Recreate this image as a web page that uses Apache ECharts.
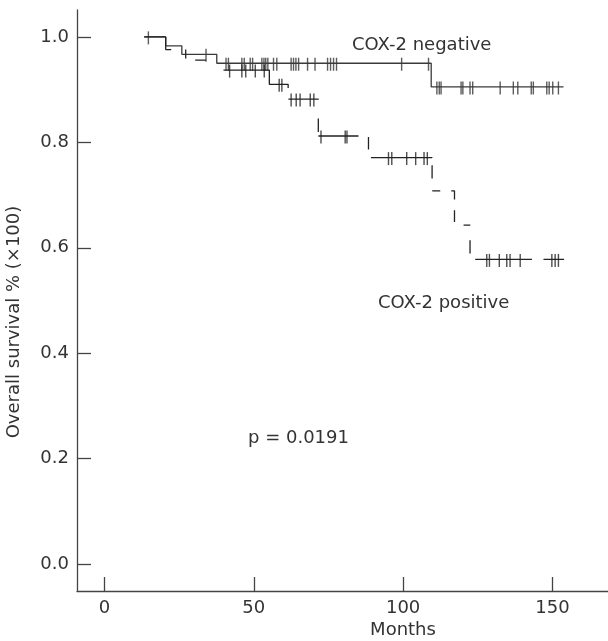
<!DOCTYPE html>
<html lang="en">
<head>
    <meta charset="UTF-8">
    <title>COX-2 survival</title>
    <script src="https://cdn.jsdelivr.net/npm/echarts@6/dist/echarts.min.js"></script>
    <style>
        html, body { margin: 0; padding: 0; background: #fff; }
    </style>
</head>
<body>
    <div id="main" style="width: 608px;height:641px;"></div>
    <script type="text/javascript">
        // Kaplan-Meier steps: time of each drop (months) and the survival after it
        const negTimes = [13.3, 20.5, 25.9, 37.6, 109.4, 153.7];
        const negSurv  = [1.0, 0.983, 0.967, 0.950, 0.905, 0.905];
        const posTimes = [13.3, 20.5, 27.2, 38.5, 55.2, 61.5, 71.6, 88.4, 109.7, 117.2, 122.4, 153.9];
        const posSurv  = [1.0, 0.976, 0.956, 0.937, 0.910, 0.882, 0.812, 0.771, 0.708, 0.643, 0.578, 0.578];

        // censored cases (months)
        const negCensor = [14.7, 34, 40.7, 41.5, 46, 46.8, 48.8, 49.6, 52.7, 53.4, 54, 54.7, 56.6, 57.7,
            62.5, 63.3, 64.1, 65, 68, 70.5, 74.7, 75.7, 76.7, 77.7, 99.5, 108.5,
            111.3, 112.1, 112.7, 119.4, 120, 122.4, 123.3, 132.5, 136.9, 138.4, 142.9, 143.6,
            148.1, 148.9, 150.1, 152];
        const posCensor = [41.9, 46, 47.3, 50.5, 53.5, 58.5, 59.4, 62.5, 64.2, 65.5, 68.9, 70.1,
            72.5, 80.6, 81.2, 95.1, 96.2, 101.2, 104.2, 107, 108.1,
            128, 128.9, 132.2, 134.7, 135.8, 139.2, 149.8, 150.9, 152];

        const xTicks = [0, 50, 100, 150];
        const yTicks = [0, 0.2, 0.4, 0.6, 0.8, 1.0];

        const FONT = 'DejaVu Sans';
        const INK = '#333';
        // irregular dashing of the old plot, dash/gap lengths in px along the curve
        const POS_DASH = [39.7, 14.5, 8.8, 11.2, 10.8, 27.5, 82.5, 11.4, 30.2, 19.2, 13.4, 4.1, 40.1, 11,
            12.6, 10.5, 61.3, 7.5, 13.3, 12.4, 8, 11, 12, 10.7, 11.7, 12.2, 6.6, 15, 13.3, 11, 56.7, 11.6, 40, 10];

        // survival level of a step curve at time t
        function levelAt(times, surv, t) {
            let s = surv[0];
            for (let i = 0; i < times.length; i++) {
                if (times[i] <= t) s = surv[i];
            }
            return s;
        }
        const pairs = (a, b) => a.map((t, i) => [t, b[i]]);
        const marks = (c, times, surv) => c.map(t => [t, levelAt(times, surv, t)]);

        let options = {
            animation: false,
            grid: { left: 77, right: 0, top: 10, bottom: 50, outerBoundsMode: 'none' },
            xAxis: {
                type: 'value', min: -9.2, max: 168.6,
                splitLine: { show: false },
                axisLine: { onZero: false, lineStyle: { color: '#444', width: 1.3 } },
                axisTick: { inside: true, length: 14, customValues: xTicks, lineStyle: { color: '#444', width: 1.3 } },
                axisLabel: { customValues: xTicks, fontFamily: FONT, fontSize: 18, color: INK, margin: 8 }
            },
            yAxis: {
                type: 'value', min: -0.051, max: 1.051,
                splitLine: { show: false },
                axisLine: { show: true, onZero: false, lineStyle: { color: '#444', width: 1.3 } },
                axisTick: { show: true, inside: true, length: 14, customValues: yTicks, lineStyle: { color: '#444', width: 1.3 } },
                axisLabel: { customValues: yTicks, formatter: v => v.toFixed(1), fontFamily: FONT, fontSize: 18, color: INK, margin: 8 }
            },
            series: [
                {
                    name: 'COX-2 negative', type: 'line', step: 'end', symbol: 'none',
                    data: pairs(negTimes, negSurv),
                    lineStyle: { color: '#3a3a3a', width: 1.3 }
                },
                {
                    name: 'COX-2 positive', type: 'line', step: 'end', symbol: 'none',
                    data: pairs(posTimes, posSurv),
                    lineStyle: { color: '#222', width: 1.3, type: POS_DASH }
                },
                {
                    name: 'negative censored', type: 'scatter', symbol: 'rect', symbolSize: [1.4, 13],
                    symbolOffset: [0, 1],
                    data: marks(negCensor, negTimes, negSurv),
                    itemStyle: { color: '#333' }
                },
                {
                    name: 'positive censored', type: 'scatter', symbol: 'rect', symbolSize: [1.4, 13],
                    symbolOffset: [0, 1],
                    data: marks(posCensor, posTimes, posSurv),
                    itemStyle: { color: '#222' }
                }
            ],
            graphic: [
                { type: 'text', x: 352, y: 45, style: { text: 'COX-2 negative', font: '18px ' + FONT, fill: INK, textVerticalAlign: 'middle' } },
                { type: 'text', x: 378, y: 303, style: { text: 'COX-2 positive', font: '18px ' + FONT, fill: INK, textVerticalAlign: 'middle' } },
                { type: 'text', x: 248, y: 438, style: { text: 'p = 0.0191', font: '18px ' + FONT, fill: INK, textVerticalAlign: 'middle' } },
                { type: 'text', x: 403, y: 630, style: { text: 'Months', font: '18px ' + FONT, fill: INK, textAlign: 'center', textVerticalAlign: 'middle' } },
                { type: 'text', x: 14, y: 322, rotation: Math.PI / 2, style: { text: 'Overall survival % (×100)', font: '18px ' + FONT, fill: INK, textAlign: 'center', textVerticalAlign: 'middle' } }
            ]
        };

        let myChart = echarts.init(document.getElementById('main'));
        myChart.setOption(options);
    </script>
</body>
</html>
